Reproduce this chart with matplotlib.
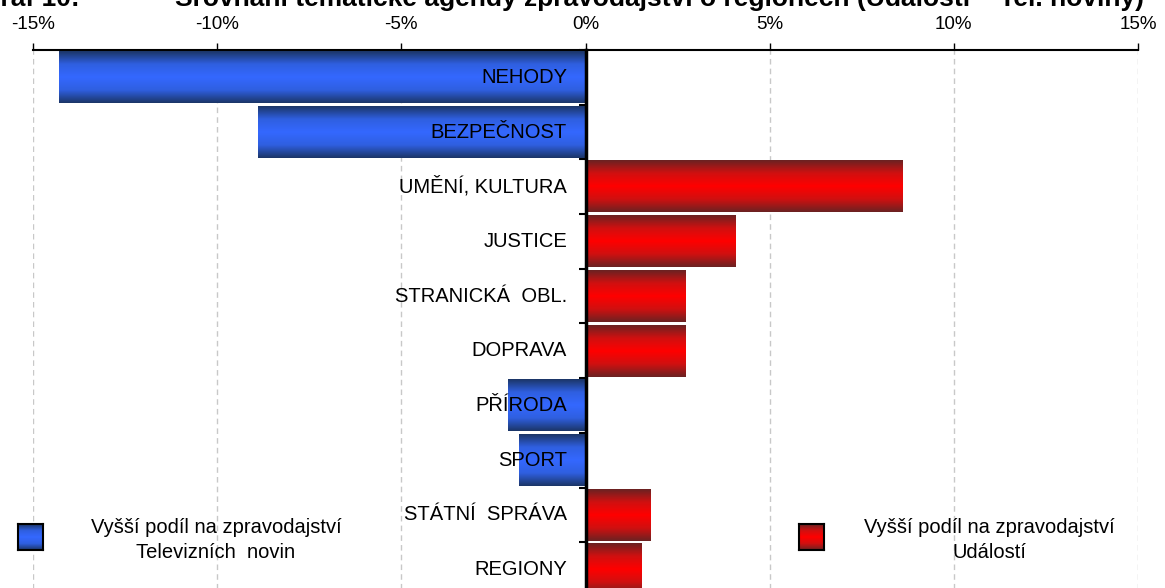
import numpy as np
import matplotlib
matplotlib.use("Agg")
import matplotlib.pyplot as plt
from matplotlib.colors import LinearSegmentedColormap

plt.rcParams['font.family'] = ['Liberation Sans', 'DejaVu Sans']

# ---------------- DATA ----------------
categories = ["NEHODY", "BEZPEČNOST", "UMĚNÍ, KULTURA", "JUSTICE", "STRANICKÁ  OBL.",
              "DOPRAVA", "PŘÍRODA", "SPORT", "STÁTNÍ  SPRÁVA", "REGIONY"]
values = [-14.3, -8.9, 8.6, 4.05, 2.7, 2.7, -2.1, -1.8, 1.75, 1.5]
xticks = [-15, -10, -5, 0, 5, 10, 15]
legend_tv = "Vyšší podíl na zpravodajství\nTelevizních  novin"
legend_ud = "Vyšší podíl na zpravodajství\nUdálostí"
title_num = "Graf 10:"
title_txt = "Srovnání tematické agendy zpravodajství o regionech (Události – Tel. noviny)"

blue_cmap = LinearSegmentedColormap.from_list("b", ["#1b3566", "#2f5fe0", "#3468ff", "#2f5fe0", "#1b3566"])
red_cmap = LinearSegmentedColormap.from_list("r", ["#6a2222", "#d01010", "#ff0000", "#d01010", "#6a2222"])
grad = np.linspace(0, 1, 256).reshape(-1, 1)

fig = plt.figure(figsize=(11.65, 5.88), dpi=100)
ax = fig.add_axes([33 / 1165, -9 / 588, 1105 / 1165, 547 / 588])

y = np.arange(len(categories))
bars = ax.barh(y, values, height=0.94, color="none", zorder=3)
for b, v in zip(bars, values):
    x0, y0 = b.get_x(), b.get_y()
    ax.imshow(grad, cmap=blue_cmap if v < 0 else red_cmap, aspect="auto",
              extent=[x0, x0 + b.get_width(), y0, y0 + b.get_height()], zorder=3)

for i, c in enumerate(categories):
    ax.text(-0.5, i, c, ha="right", va="center", fontsize=14.5, zorder=5)

ax.set_xlim(-15, 15)
ax.set_ylim(len(categories) - 0.5, -0.5)
ax.set_xticks(xticks)
ax.set_xticklabels([f"{t}%" for t in xticks], fontsize=13.5)
ax.xaxis.tick_top()
ax.tick_params(axis="x", direction="out", length=5, width=1, pad=7.5)
ax.grid(axis="x", linestyle=(0, (4, 3)), color="#c8c8c8", lw=1, zorder=0)

ax.spines["bottom"].set_visible(False)
ax.spines["right"].set_visible(False)
ax.spines["top"].set_linewidth(1.5)
ax.spines["left"].set_position(("data", 0))
ax.spines["left"].set_linewidth(2.5)
ax.spines["left"].set_zorder(6)
ax.set_yticks(np.arange(-0.5, len(categories), 1))
ax.set_yticklabels([])
ax.tick_params(axis="y", direction="out", length=5, width=1.5)

# legend squares with gradient
for (lx, cmap, txt, tx) in [(18, blue_cmap, legend_tv, 216), (799, red_cmap, legend_ud, 989)]:
    lax = fig.add_axes([lx / 1165, (588 - 550) / 588, 25 / 1165, 26 / 588])
    lax.imshow(grad, cmap=cmap, aspect="auto")
    lax.set_xticks([])
    lax.set_yticks([])
    for s in lax.spines.values():
        s.set_linewidth(1.5)
    fig.text(tx / 1165, (588 - 540) / 588, txt, ha="center", va="center",
             fontsize=14.5, linespacing=1.4)

# title, clipped at top edge
fig.text(80 / 1165, 1 - 6 / 588, title_num, ha="right", va="baseline",
         fontsize=19, fontweight="bold")
fig.text(175 / 1165, 1 - 6 / 588, title_txt, ha="left", va="baseline",
         fontsize=19, fontweight="bold")

fig.savefig("out.png", dpi=100)
